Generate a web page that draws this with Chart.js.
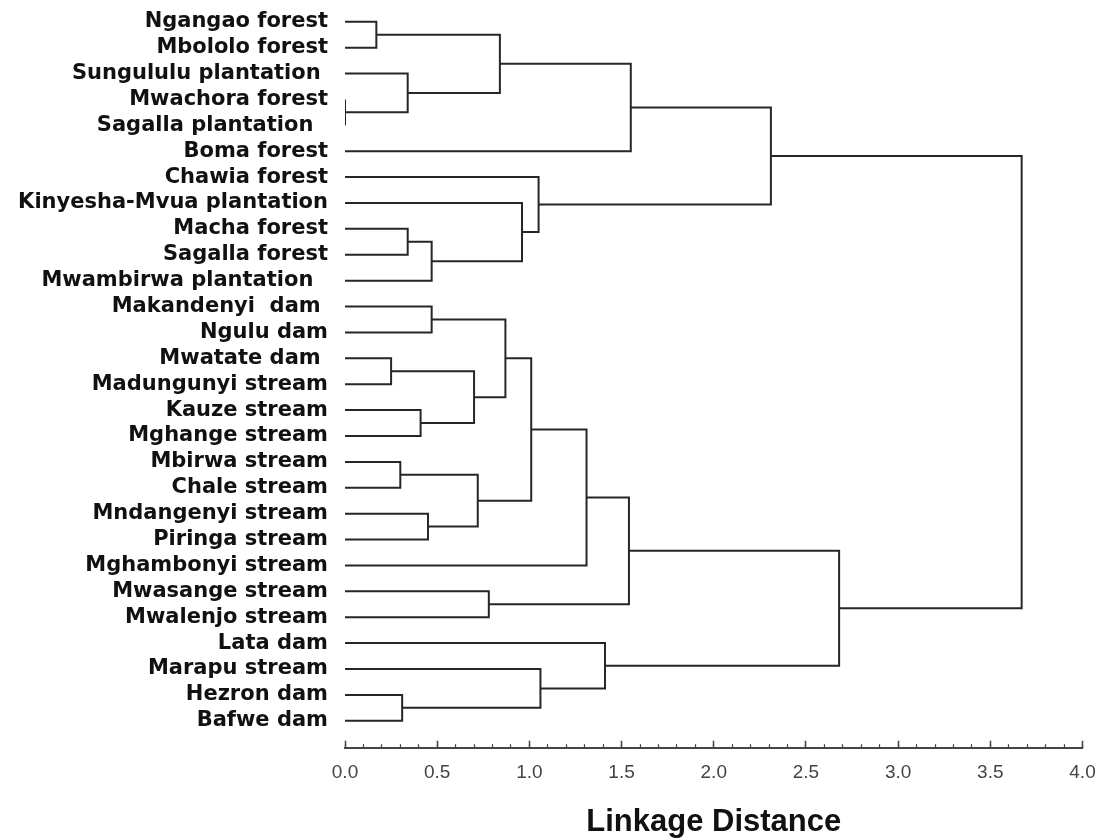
<!DOCTYPE html>
<html lang="en">
<head>
  <meta charset="UTF-8" />
  <title>Dendrogram - Linkage Distance</title>
  <script src="https://cdn.jsdelivr.net/npm/chart.js"></script>
  <style>
    body {
      margin: 0;
      background: #fff;
    }
    .wrap {
      width: 1112px;
      height: 838px;
      position: relative;
    }
  </style>
</head>
<body>
  <div class="wrap">
    <canvas id="chart"></canvas>
  </div>

  <script>
    // Leaves, top to bottom
    const leaves = [
      "Ngangao forest",
      "Mbololo forest",
      "Sungululu plantation ",
      "Mwachora forest",
      "Sagalla plantation  ",
      "Boma forest",
      "Chawia forest",
      "Kinyesha-Mvua plantation",
      "Macha forest",
      "Sagalla forest",
      "Mwambirwa plantation  ",
      "Makandenyi  dam ",
      "Ngulu dam",
      "Mwatate dam ",
      "Madungunyi stream",
      "Kauze stream",
      "Mghange stream",
      "Mbirwa stream",
      "Chale stream",
      "Mndangenyi stream",
      "Piringa stream",
      "Mghambonyi stream",
      "Mwasange stream",
      "Mwalenjo stream",
      "Lata dam",
      "Marapu stream",
      "Hezron dam",
      "Bafwe dam"
    ];

    // Merges: ids < 28 are leaves, id 28 + k is the cluster made by merge k
    const linkA = [3, 0, 2, 29, 31, 8, 33, 7, 6, 32, 11, 13, 15, 39, 38, 17, 19, 43, 42, 46, 22, 47, 26, 25, 24, 49, 37];
    const linkB = [4, 1, 28, 30, 5, 9, 10, 34, 35, 36, 12, 14, 16, 40, 41, 18, 20, 44, 45, 21, 23, 48, 27, 50, 51, 52, 53];
    const linkDist = [0.0, 0.17, 0.34, 0.84, 1.55, 0.34, 0.47, 0.96, 1.05, 2.31,
      0.47, 0.25, 0.41, 0.70, 0.87, 0.30, 0.45, 0.72, 1.01, 1.31,
      0.78, 1.54, 0.31, 1.06, 1.41, 2.68, 3.67];

    const xTicks = [0, 0.5, 1, 1.5, 2, 2.5, 3, 3.5, 4];

    // Build one line per merge (the usual U shape)
    const pos = leaves.map((_, i) => ({ x: 0, y: i }));
    const datasets = [];
    for (let k = 0; k < linkDist.length; k++) {
      const a = pos[linkA[k]];
      const b = pos[linkB[k]];
      const h = linkDist[k];
      datasets.push({
        data: [
          { x: a.x, y: a.y },
          { x: h, y: a.y },
          { x: h, y: b.y },
          { x: b.x, y: b.y }
        ],
        showLine: true,
        borderColor: "#262626",
        borderWidth: 2,
        pointRadius: 0,
        tension: 0
      });
      pos.push({ x: h, y: (a.y + b.y) / 2 });
    }

    const ctx = document.getElementById("chart").getContext("2d");
    new Chart(ctx, {
      type: "scatter",
      data: { datasets },
      options: {
        responsive: true,
        maintainAspectRatio: false,
        animation: false,
        layout: { padding: { top: 0, right: 29.5, bottom: 0, left: 0 } },
        plugins: {
          legend: { display: false },
          tooltip: { enabled: false }
        },
        scales: {
          y: {
            type: "linear",
            reverse: true,
            min: -0.84,
            max: 28.04,
            afterFit: (s) => {
              s.width = 345;
              s.paddingTop = 0;
              s.paddingBottom = 0;
            },
            afterBuildTicks: (s) => { s.ticks = leaves.map((_, i) => ({ value: i })); },
            ticks: {
              autoSkip: false,
              padding: 17,
              color: "#111",
              font: { family: "DejaVu Sans", size: 21, weight: "bold" },
              callback: (v) => leaves[v]
            },
            grid: { display: false, drawTicks: false },
            border: { display: false }
          },
          x: {
            type: "linear",
            position: "bottom",
            weight: 1,
            min: 0,
            max: 4,
            afterFit: (s) => {
              s.height = 90.3;
              s.paddingLeft = 0;
              s.paddingRight = 0;
            },
            afterBuildTicks: (s) => { s.ticks = xTicks.map((v) => ({ value: v })); },
            ticks: {
              padding: 21,
              color: "#444",
              font: { family: "Liberation Sans", size: 19 },
              callback: (v) => v.toFixed(1)
            },
            grid: {
              drawOnChartArea: false,
              tickLength: -7,
              tickColor: "#444",
              tickWidth: 1.5
            },
            border: { display: true, color: "#444", width: 2 },
            title: {
              display: true,
              text: "Linkage Distance",
              color: "#111",
              font: { family: "Liberation Sans", size: 31, weight: "bold" },
              padding: { top: 0, bottom: -3 }
            }
          },
          // minor ticks every 0.1
          xm: {
            type: "linear",
            position: "bottom",
            weight: 0,
            min: 0,
            max: 4,
            afterFit: (s) => {
              s.height = 0;
              s.paddingLeft = 0;
              s.paddingRight = 0;
            },
            ticks: { display: false, stepSize: 0.1, autoSkip: false, maxTicksLimit: 100 },
            grid: {
              drawOnChartArea: false,
              tickLength: -3.5,
              tickColor: "#444",
              tickWidth: 1.2
            },
            border: { display: false }
          }
        }
      }
    });
  </script>
</body>
</html>
